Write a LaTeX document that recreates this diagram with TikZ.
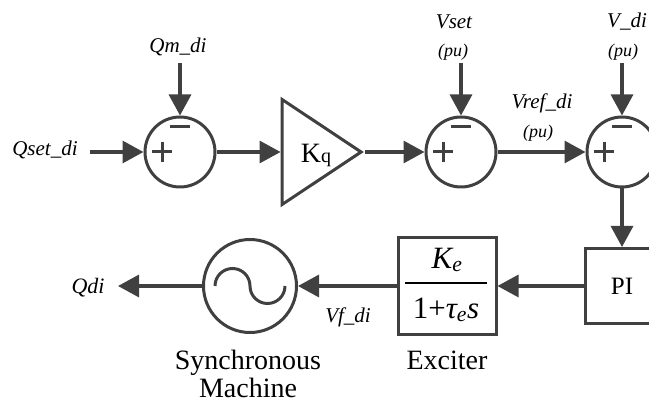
\documentclass[tikz,border=0pt]{standalone}
\usepackage{fontspec}
\setmainfont{Liberation Serif}
\usetikzlibrary{arrows.meta,shapes.geometric}
\definecolor{ln}{HTML}{404040}
\begin{document}
\begin{tikzpicture}[x=1pt,y=-1pt,
  conn/.style={draw=ln, line width=3.2pt, -{Triangle[length=21pt,width=22pt]}},
  sumnode/.style={circle, draw=ln, line width=3pt, minimum size=70pt, inner sep=0pt},
  blk/.style={rectangle, draw=ln, line width=3pt, inner sep=0pt},
  sign/.style={draw=ln, line width=3pt},
  lab/.style={font=\fontsize{21}{23}\selectfont\itshape, inner sep=0pt},
  pu/.style={font=\fontsize{18}{20}\selectfont\itshape, inner sep=0pt},
  big/.style={font=\fontsize{28}{28}\selectfont, inner sep=0pt, align=center},
]
\useasboundingbox (0,0) rectangle (649,403);
\clip (0,0) rectangle (649,403);

% summing junctions
\node[sumnode] (s1) at (180,152) {};
\node[sumnode] (s2) at (461,152) {};
\node[sumnode] (s3) at (622,152) {};
\foreach \s in {s1,s2,s3} {
  \draw[sign] ([xshift=-28pt]\s.center) -- ([xshift=-8pt]\s.center);
  \draw[sign] ([xshift=-18pt,yshift=10pt]\s.center) -- ([xshift=-18pt,yshift=-10pt]\s.center);
  \draw[sign] ([xshift=-10pt,yshift=25pt]\s.center) -- ([xshift=10pt,yshift=25pt]\s.center);
}

% gain
\node[isosceles triangle, isosceles triangle stretches, draw=ln, line width=3pt,
      minimum height=79pt, minimum width=105pt, inner sep=0pt, anchor=apex] (k) at (365,152) {};
\node[inner sep=0pt] (kq) at (316,155) {{\fontsize{28}{30}\selectfont K}{\fontsize{20}{22}\selectfont q}};

% blocks
\node[blk, minimum width=74pt, minimum height=75pt, font=\fontsize{25}{27}\selectfont] (pi) at (622,286) {PI};
\node[blk, minimum width=98pt, minimum height=97pt] (ex) at (447,286) {};
\node[inner sep=0pt, font=\fontsize{31}{33}\selectfont] (num) at (447,260) {\itshape K\textsubscript{e}};
\node[inner sep=0pt, font=\fontsize{31}{33}\selectfont] (den) at (446,310) {1+\itshape τ\textsubscript{e}s};
\draw[line width=2pt] ([xshift=-42pt,yshift=3pt]ex.center) -- ([xshift=40pt,yshift=3pt]ex.center);
\node[big] (exl) at (447,360) {Exciter};

% generator
\node[circle, draw=ln, line width=3pt, minimum size=93pt, inner sep=0pt] (gen) at (250,286) {};
\draw[draw=ln, line width=3pt] ([xshift=-35pt]gen.center) arc[start angle=180, end angle=0, radius=17.5pt]
  arc[start angle=180, end angle=360, radius=17.5pt];
\node[big] (genl) at (248,374) {Synchronous\\Machine};

% input coordinates
\coordinate (qset) at (90,152);
\coordinate (qm) at (180,63);
\coordinate (vset) at (461,63);
\coordinate (vdi) at (622,63);
\coordinate (qdi) at (118,286);

% labels
\node[lab] (lqset) at (45,150) {Qset\_di};
\node[lab] (lqm) at (178,47) {Qm\_di};
\node[lab] (lvset) at (454,22) {Vset};
\node[pu] (lvsetpu) at (453,52) {(pu)};
\node[lab] (lvdi) at (627,22) {V\_di};
\node[pu] (lvdipu) at (623,52) {(pu)};
\node[lab] (lvref) at (542,103) {Vref\_di};
\node[pu] (lvrefpu) at (538,133) {(pu)};
\node[lab] (lvf) at (348,317) {Vf\_di};
\node[lab, font=\fontsize{22}{24}\selectfont\itshape] (lqdi) at (88,288) {Qdi};

% connectors
\draw[conn] (qset) -- (s1.west);
\draw[conn] (qm) -- (s1.north);
\draw[conn] (s1.east) -- (k.lower side);
\draw[conn] (k.apex) -- (s2.west);
\draw[conn] (vset) -- (s2.north);
\draw[conn] (s2.east) -- (s3.west);
\draw[conn] (vdi) -- (s3.north);
\draw[conn] (s3.south) -- (pi.north);
\draw[conn] (pi.west) -- (ex.east);
\draw[conn] (ex.west) -- (gen.east);
\draw[conn] (gen.west) -- (qdi);
\end{tikzpicture}
\end{document}
